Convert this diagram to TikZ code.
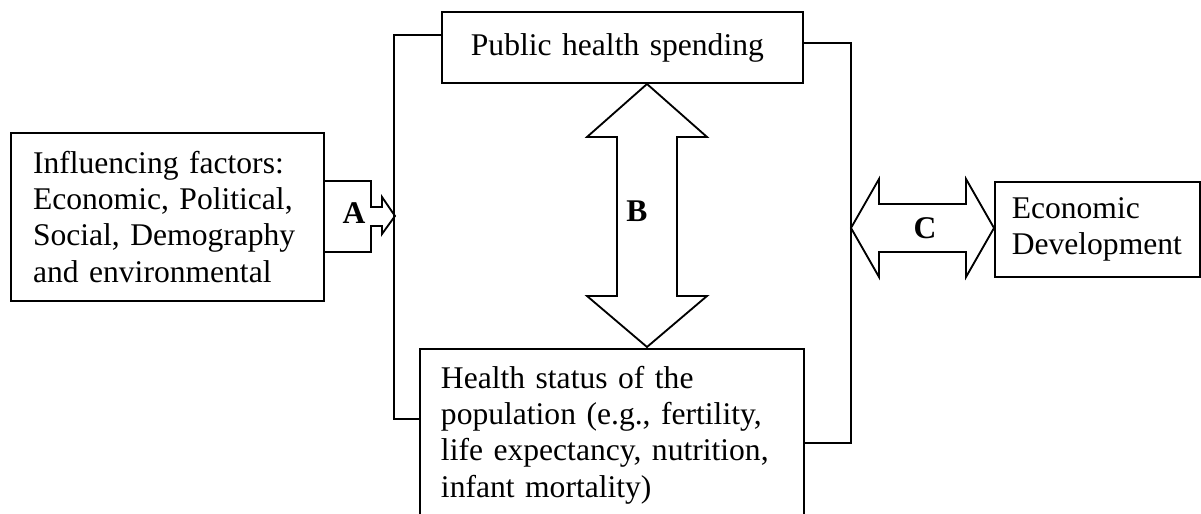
\documentclass[tikz,border=0pt]{standalone}
\usepackage{fontspec}
\setmainfont{Liberation Serif}
\usetikzlibrary{calc}

\begin{document}
\begin{tikzpicture}[x=0.38pt, y=-0.38pt, line width=0.7pt,
  every node/.style={font=\fontsize{12pt}{13.8pt}\selectfont},
  box/.style={draw, line width=0.7pt, align=left},
  lab/.style={font=\fontsize{12pt}{13.8pt}\selectfont\bfseries}]

% Picture frame
\useasboundingbox (0,0) rectangle (1201,514);
\clip (0,0) rectangle (1201,514);

% Boxes
\node[box, anchor=north west, text width=102.2pt, inner xsep=8.4pt, minimum height=63.8pt] (factors) at (10,132)
  {Influencing factors:\\ Economic, Political,\\ Social, Demography\\ and environmental};
\node[box, text width=115.2pt, inner xsep=11pt, minimum height=27pt] (phs) at (622.5,47.5) {Public health spending};
\node[box, anchor=north west, text width=130pt, inner xsep=8pt, inner ysep=6.5pt] (health) at (419,348)
  {Health status of the\\ population (e.g., fertility,\\ life expectancy, nutrition,\\ infant mortality)};
\node[box, anchor=north west, text width=65pt, inner xsep=6.4pt, minimum height=36.1pt] (econ) at (994,181)
  {Economic\\ Development};

% Brackets joining the two middle boxes
\coordinate (lbarT) at (394,35);
\coordinate (lbarB) at (394,419);
\coordinate (rbarT) at (851,43);
\coordinate (rbarB) at (851,443);
\draw (phs.west |- lbarT) -- (lbarT) -- (lbarB) -- (health.west |- lbarB);
\draw (phs.east |- rbarT) -- (rbarT) -- (rbarB) -- (health.east |- rbarB);

% Arrow A
\draw (factors.east |- 0,181) -- (371,181) -- (371,207) -- (382,207) -- (382,197) -- (395,216)
  -- (382,234) -- (382,226) -- (371,226) -- (371,252) -- (factors.east |- 0,252);
\node[lab] (lA) at (354,213) {A};

% Arrow B
\draw (647,84) -- (707,137) -- (677,137) -- (677,296) -- (707,296) -- (647,347)
  -- (587,296) -- (617,296) -- (617,137) -- (587,137) -- cycle;
\node[lab] (lB) at (637,211) {B};

% Arrow C
\draw (851,228) -- (879,179) -- (879,204) -- (966,204) -- (966,179) -- (994,228)
  -- (966,277) -- (966,252) -- (879,252) -- (879,277) -- cycle;
\node[lab] (lC) at (925,228) {C};

\end{tikzpicture}
\end{document}
